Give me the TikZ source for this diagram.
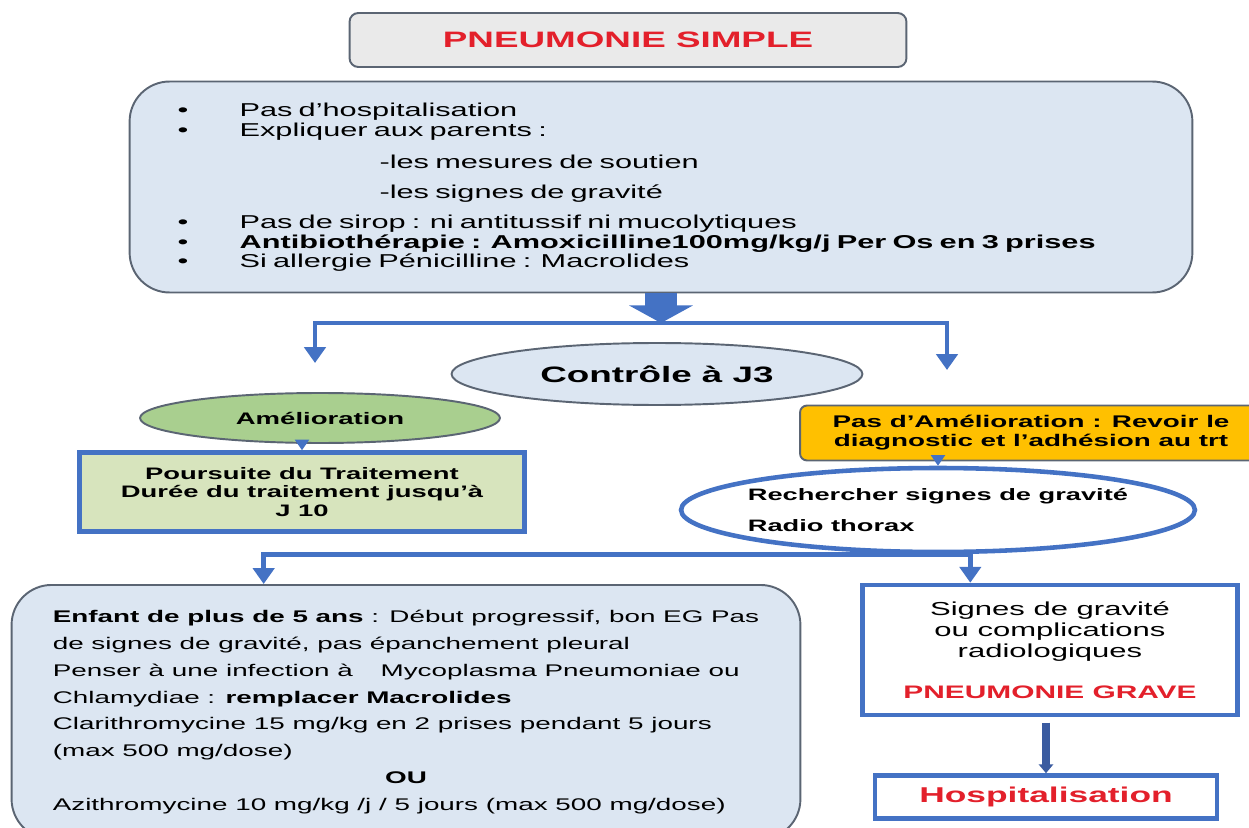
\documentclass[tikz,border=0pt]{standalone}
\usepackage{fontspec}
\setmainfont[FakeStretch=1.65]{Liberation Sans}
\usetikzlibrary{shapes.geometric, arrows.meta, calc}

\definecolor{fondbleu}{HTML}{DCE6F2}
\definecolor{traitbleu}{HTML}{4472C4}
\definecolor{bleufonce}{HTML}{3A5BA0}
\definecolor{bordgris}{HTML}{5B6573}
\definecolor{fondgris}{HTML}{EAEAEA}
\definecolor{vertclair}{HTML}{A9CF8F}
\definecolor{vertpale}{HTML}{D7E4BD}
\definecolor{ambre}{HTML}{FFC000}
\definecolor{rouge}{HTML}{E3202B}
\newcommand{\fsz}[2]{\fontsize{#1pt}{#2pt}\selectfont}
\newcommand{\puce}{\makebox[1.24cm][l]{\textbullet}}

\begin{document}
\begin{tikzpicture}[x=0.02cm, y=-0.02cm,
  gris/.style = {draw=bordgris, line width=1.1pt},
  bleu/.style = {draw=traitbleu, line width=2.6pt, fill=white},
  fleche/.style = {draw=traitbleu, line width=2.6pt, >={Triangle[width=12pt,length=9pt]}},
  petite/.style = {draw=traitbleu, line width=1pt, ->, >={Triangle[width=8pt,length=6pt]}}]
\useasboundingbox (0,0) rectangle (1249,828);

\node[gris, fill=fondgris, rounded corners=5pt, minimum width=11.14cm, minimum height=1.08cm,
  text=rouge, font=\fsz{12.7}{15}\bfseries] (titre) at (628,40) {PNEUMONIE SIMPLE};

\node[gris, fill=fondbleu, rounded corners=0.8cm, minimum width=21.26cm, minimum height=4.22cm,
  inner xsep=0pt, text width=19.34cm, align=left, font=\fsz{10.6}{11.4}] (conduite) at (661,187) {%
  \puce Pas d'hospitalisation\\
  \puce Expliquer aux parents :\\[6.8pt]
  \hspace*{4.04cm}-les mesures de soutien\\[5.7pt]
  \hspace*{4.04cm}-les signes de gravité\\[5.7pt]
  \puce Pas de sirop : ni antitussif ni mucolytiques\\
  \puce \textbf{Antibiothérapie : Amoxicilline100mg/kg/j Per Os en 3 prises}\\[-0.6pt]
  \puce Si allergie Pénicilline : Macrolides};

\coordinate (split1) at (661,323);
\draw[draw=traitbleu, line width=18pt, -{Triangle[width=36pt,length=10pt]}] (conduite.south) -- (split1);
\coordinate (versAme) at (315,363);
\coordinate (versPas) at (947,370);
\draw[fleche, <->] (versAme) |- (split1) -| (versPas);

\node[gris, ellipse, fill=fondbleu, minimum width=8.22cm, minimum height=1.24cm,
  font=\fsz{12.7}{15}\bfseries] (controle) at (657,374) {Contrôle à J3};

\node[gris, ellipse, fill=vertclair, minimum width=7.2cm, minimum height=1cm,
  font=\fsz{9.5}{11}\bfseries] (amelio) at (320,418) {Amélioration};
\node[bleu, fill=vertpale, minimum width=8.9cm, minimum height=1.58cm, align=center,
  font=\fsz{9.45}{10.5}\bfseries] (poursuite) at (302,492) {Poursuite du Traitement\\ Durée du traitement jusqu'à\\ J 10};
\draw[petite] (amelio.south -| poursuite.north) -- (poursuite.north);

\node[gris, fill=ambre, rounded corners=4pt, minimum width=9.24cm, minimum height=1.1cm, align=center,
  font=\fsz{9.6}{10.8}\bfseries] (pasamelio) at (1031,433) {Pas d'Amélioration : Revoir le\\ diagnostic et l'adhésion au trt};
\node[bleu, ellipse, minimum width=10.28cm, minimum height=1.68cm, inner xsep=-0.2cm, inner ysep=0pt,
  align=left, font=\fsz{9.4}{17.6}\bfseries] (recherche) at (938,510) {Rechercher signes de gravité\\ Radio thorax};
\draw[petite] (pasamelio.south -| recherche.north) -- (recherche.north);

\node[gris, fill=fondbleu, rounded corners=0.8cm, anchor=north, minimum width=15.78cm,
  inner xsep=0pt, inner ysep=0.5cm, align=left, font=\fsz{9.6}{15.3}] (enfant) at (406,584) {%
  \textbf{Enfant de plus de 5 ans} : Début progressif, bon EG Pas\\
  de signes de gravité, pas épanchement pleural\\
  Penser à une infection à\hspace{0.4cm} Mycoplasma Pneumoniae ou\\
  Chlamydiae : \textbf{remplacer Macrolides}\\
  Clarithromycine 15 mg/kg en 2 prises pendant 5 jours\\
  (max 500 mg/dose)\\[15.3pt]
  Azithromycine 10 mg/kg /j / 5 jours (max 500 mg/dose)};
\node[font=\fsz{9.6}{15.3}\bfseries] (ou) at (406,778) {OU};

\node[bleu, minimum width=7.5cm, minimum height=2.6cm, align=center, font=\fsz{10.7}{12}] (signes) at (1050,650) {%
  Signes de gravité\\ ou complications\\ radiologiques\\[11.3pt]
  {\fsz{10.3}{12}\bfseries\color{rouge}PNEUMONIE GRAVE}};
\node[bleu, minimum width=6.84cm, minimum height=0.86cm, text=rouge,
  font=\fsz{12.2}{14}\bfseries] (hospit) at (1046,797) {Hospitalisation};

\coordinate (versEnfant) at ($(enfant.north west)!0.32!(enfant.north east)$);
\coordinate (versSignes) at ($(signes.north west)!0.29!(signes.north east)$);
\draw[fleche, <->] (versEnfant) |- (recherche.south) -| (versSignes);
\draw[draw=bleufonce, line width=4pt, shorten <=3pt, -{Triangle[width=8pt,length=5pt]}] (signes.south -| hospit.north) -- (hospit.north);

\end{tikzpicture}
\end{document}
